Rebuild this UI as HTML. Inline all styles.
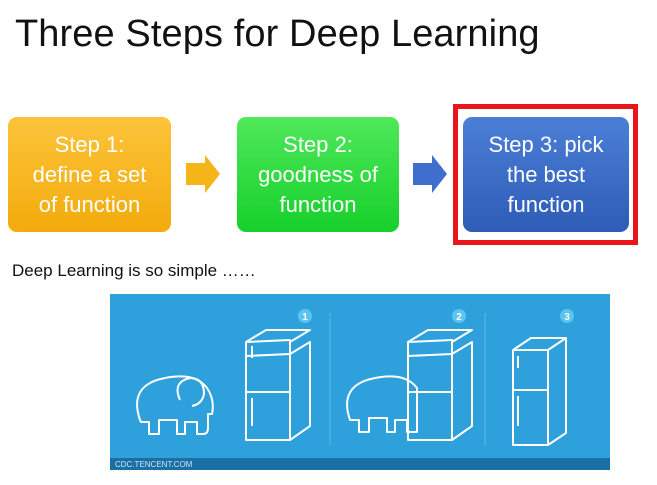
<!DOCTYPE html>
<html><head><style>
body{margin:0;width:657px;height:485px;background:#fff;position:relative;overflow:hidden;font-family:"Liberation Sans",sans-serif}
.t{position:absolute;left:15px;top:13px;font-size:38px;color:#111;letter-spacing:0.1px}
.b{position:absolute;top:117px;height:115px;border-radius:9px;color:#fff;font-size:22px;line-height:30px;text-align:center;display:flex;align-items:center;justify-content:center}
.s{position:absolute;left:12px;top:261px;font-size:17px;color:#111}
</style></head><body>
<div class="t">Three Steps for Deep Learning</div>
<div class="b" style="left:8px;width:163px;background:linear-gradient(#fcc33a,#f3ab0c)">Step 1:<br>define a set<br>of function</div>
<div class="b" style="left:237px;width:162px;background:linear-gradient(#4fe85a,#16d02a)">Step 2:<br>goodness of<br>function</div>
<div class="b" style="left:463px;width:166px;background:linear-gradient(#4b7fd6,#2e5cb8)">Step 3: pick<br>the best<br>function</div>
<div style="position:absolute;left:453px;top:104px;width:175px;height:131px;border:5px solid #e8161b"></div>
<svg style="position:absolute;left:0;top:0" width="657" height="485">
<polygon points="186,163 205,163 205,155 220,174 205,193 205,185 186,185" fill="#f5b418"/>
<polygon points="413,163 432,163 432,155 447,174 432,193 432,185 413,185" fill="#3e6fcf"/>
<rect x="110" y="294" width="500" height="176" fill="#2ea0dc"/>
<rect x="110" y="458" width="500" height="12" fill="#1a6fa5"/>
<line x1="330" y1="313" x2="330" y2="445" stroke="#5fb8e6"/>
<line x1="485" y1="313" x2="485" y2="445" stroke="#5fb8e6"/>
<g fill="#fff" font-size="10" font-weight="bold" text-anchor="middle">
<circle cx="305" cy="316" r="7" fill="#5cc4f0"/><text x="305" y="320">1</text>
<circle cx="459" cy="316" r="7" fill="#5cc4f0"/><text x="459" y="320">2</text>
<circle cx="567" cy="316" r="7" fill="#5cc4f0"/><text x="567" y="320">3</text>
</g>
<g fill="none" stroke="#fff" stroke-width="2" stroke-linejoin="round">
<path d="M140,420 q-12,-35 25,-42 q30,-6 42,10 q8,12 5,26 l-4,0 l0,14 q0,6 -5,6 l-6,0 l0,-12 l-12,0 l0,12 l-8,0 l0,-14 l-18,0 l0,14 l-10,0 l0,-12 l-8,0 z"/>
<path d="M180,400 q-8,-18 10,-22 q14,0 14,16 q-2,10 -12,12"/>
<path d="M246,356 l44,-2 l0,86 l-44,0 z M246,356 l0,-14 l44,-2 l0,14"/>
<path d="M246,392 l44,0 M290,354 l20,-12 l0,84 l-20,14 M246,342 l20,-12 l44,0 l-20,12"/>
<path d="M252,346 l0,12 M252,398 l0,28"/>
<path d="M350,420 q-12,-35 25,-42 q30,-6 42,10 l0,44 l-10,0 l0,-12 l-12,0 l0,12 l-8,0 l0,-14 l-18,0 l0,14 l-10,0 l0,-12 l-8,0 z"/>
<path d="M408,356 l44,-2 l0,86 l-44,0 z M408,356 l0,-14 l44,-2 l0,14"/>
<path d="M408,392 l44,0 M452,354 l20,-12 l0,84 l-20,14 M408,342 l20,-12 l44,0 l-20,12"/>
<path d="M513,350 l35,0 l0,95 l-35,0 z M513,350 l18,-12 l35,0 l-18,12 M548,445 l18,-12 l0,-95 M513,390 l35,0"/>
<path d="M518,356 l0,12 M518,396 l0,30"/>
</g>
<text x="115" y="467" font-size="8" fill="#cfe6f5">CDC.TENCENT.COM</text>
</svg>
<div class="s">Deep Learning is so simple ……</div>
</body></html>
